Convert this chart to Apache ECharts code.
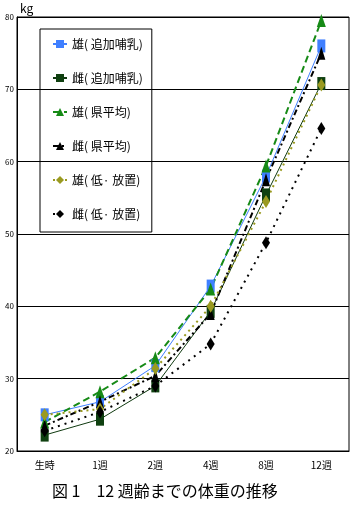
<!DOCTYPE html>
<html>
<head>
<meta charset="utf-8">
<script src="https://cdn.jsdelivr.net/npm/echarts@6/dist/echarts.min.js"></script>
<style>
  html, body { margin: 0; padding: 0; background: #fff; }
  #chart { width: 353px; height: 505px; }
</style>
</head>
<body>
<div id="chart"></div>
<script>
  // 週齢
  const weeks = ['生時', '1週', '2週', '4週', '8週', '12週'];

  const maleExtra = [25.0, 26.8, 31.8, 42.8, 58.0, 76.0];
  const femaleExtra = [22.2, 24.4, 29.0, 39.3, 55.4, 70.8];
  const maleAvg = [24.0, 28.2, 32.9, 42.4, 59.4, 79.5];
  const femaleAvg = [23.5, 26.8, 30.4, 39.0, 57.5, 75.0];
  const maleLow = [25.0, 25.8, 31.4, 40.0, 54.5, 70.6];
  const femaleLow = [22.8, 25.4, 29.0, 34.8, 48.8, 64.6];

  const yTicks = [20, 30, 40, 50, 60, 70, 80];

  const font = '"Noto Sans CJK JP", sans-serif';
  const myChart = echarts.init(document.getElementById('chart'));

  const mk = (name, data, color, symbol, size, lineType, width, lineColor) => ({
    name: name,
    type: 'line',
    data: data,
    symbol: symbol,
    symbolSize: size,
    itemStyle: { color: color },
    lineStyle: { color: lineColor || color, type: lineType, width: width },
    z: 2,
  });

  let option = {
    animation: false,
    backgroundColor: '#fff',
    textStyle: { fontFamily: font },
    title: {
      text: '図 1　12 週齢までの体重の推移',
      left: 47,
      top: 478,
      textStyle: { fontSize: 16, fontWeight: 'normal', color: '#000', fontFamily: font },
    },
    legend: {
      orient: 'vertical',
      left: 40,
      top: 29,
      padding: [8, 9, 11, 12],
      itemGap: 20,
      itemWidth: 14,
      itemHeight: 10,
      borderColor: '#000',
      borderWidth: 1,
      textStyle: { fontSize: 12, lineHeight: 14, color: '#000', fontFamily: font },
      data: ['雄( 追加哺乳)', '雌( 追加哺乳)', '雄( 県平均)', '雌( 県平均)', '雄( 低· 放置)', '雌( 低· 放置)'],
    },
    grid: {
      left: 17,
      right: 4,
      top: 17,
      bottom: 54,
      show: true,
      borderColor: '#000',
      borderWidth: 1,
    },
    xAxis: {
      type: 'category',
      data: weeks,
      boundaryGap: true,
      axisLine: { lineStyle: { color: '#000', width: 1 } },
      axisTick: { inside: true, length: 3, lineStyle: { color: '#000' } },
      axisLabel: { fontSize: 10, color: '#000', margin: 9, fontFamily: font },
    },
    yAxis: {
      type: 'value',
      min: 20,
      max: 80,
      interval: 10,
      name: 'kg',
      nameGap: 3,
      nameTextStyle: { fontSize: 12, color: '#000', align: 'left', padding: [0, 0, 0, 3] },
      axisLine: { show: true, lineStyle: { color: '#000' } },
      axisTick: { show: false },
      axisLabel: {
        fontSize: 8,
        color: '#000',
        margin: 3,
        formatter: (v) => (yTicks.indexOf(v) >= 0 ? String(v) : ''),
      },
      splitLine: { lineStyle: { color: '#000', width: 1 } },
    },
    series: [
      mk('雄( 追加哺乳)', maleExtra, '#3f7fff', 'rect', [8, 13], 'solid', 1),
      mk('雌( 追加哺乳)', femaleExtra, '#0f4010', 'rect', [8, 13], 'solid', 1, '#103a10'),
      mk('雄( 県平均)', maleAvg, '#168a16', 'triangle', [9, 13], [7, 4], 2),
      mk('雌( 県平均)', femaleAvg, '#000', 'triangle', [8, 13], [6, 3, 2, 3], 2),
      mk('雄( 低· 放置)', maleLow, '#9a9a20', 'diamond', [8, 13], [2, 4], 2),
      mk('雌( 低· 放置)', femaleLow, '#000', 'diamond', [8, 13], [2, 5], 2),
    ],
  };
  myChart.setOption(option);
</script>
</body>
</html>
